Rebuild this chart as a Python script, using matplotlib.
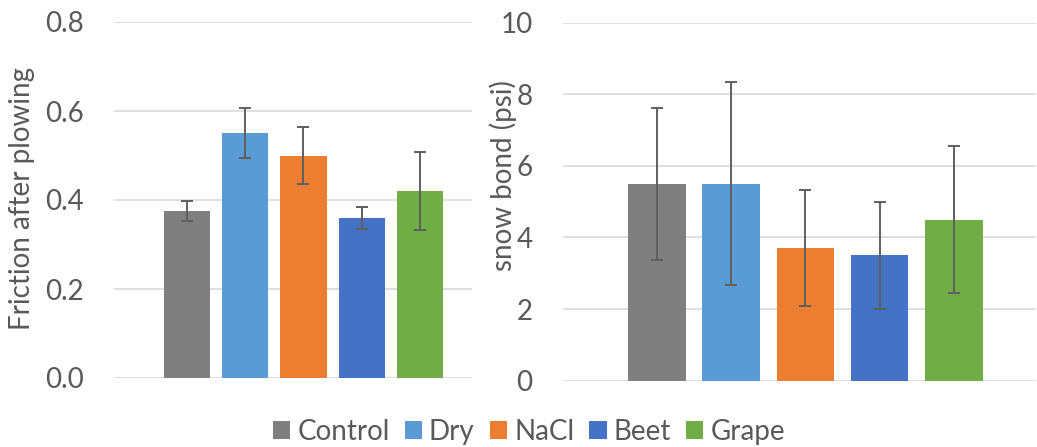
import matplotlib
matplotlib.use("Agg")
import matplotlib.pyplot as plt
from matplotlib.patches import Patch
import numpy as np

categories = ["Control", "Dry", "NaCl", "Beet", "Grape"]
colors = ["#7f7f7f", "#5b9bd5", "#ed7d31", "#4472c4", "#70ad47"]

friction = [0.375, 0.55, 0.50, 0.36, 0.42]
friction_err = [0.023, 0.056, 0.064, 0.025, 0.087]

bond = [5.5, 5.5, 3.7, 3.5, 4.5]
bond_err = [2.12, 2.83, 1.62, 1.5, 2.05]

plt.rcParams['font.family'] = ['Lato', 'DejaVu Sans']
TXT = "#595959"
GRID = "#d9d9d9"

fig = plt.figure(figsize=(10.37, 4.47), dpi=100)

def style(ax):
    for s in ax.spines.values():
        s.set_visible(False)
    ax.yaxis.grid(True, color=GRID, linewidth=1.2)
    ax.set_axisbelow(True)
    ax.tick_params(axis='y', length=0, labelsize=20, colors=TXT, pad=22)
    ax.tick_params(axis='x', length=0, labelbottom=False)

x = np.arange(len(categories))

ax1 = fig.add_axes([114/1037, 1-378/447, (472-114)/1037, 356/447])
ax1.bar(x, friction, width=0.79, color=colors, zorder=2)
ax1.errorbar(x, friction, yerr=friction_err, fmt='none', ecolor="#5f5f5f",
             elinewidth=1.4, capsize=4.5, capthick=1.4, zorder=3)
ax1.set_ylim(0, 0.8)
ax1.set_yticks([0, 0.2, 0.4, 0.6, 0.8])
ax1.set_yticklabels(["0.0", "0.2", "0.4", "0.6", "0.8"])
ax1.set_xlim(-1.25, 4.89)
style(ax1)
ax1.set_ylabel("Friction after plowing", fontsize=20, color=TXT)
ax1.yaxis.set_label_coords((22-114)/358, 0.505)
ax1.yaxis.label.set_verticalalignment('center')

ax2 = fig.add_axes([563/1037, 1-380.6/447, (1036-563)/1037, 358/447])
ax2.bar(x, bond, width=0.78, color=colors, zorder=2)
ax2.errorbar(x, bond, yerr=bond_err, fmt='none', ecolor="#5f5f5f",
             elinewidth=1.4, capsize=4.5, capthick=1.4, zorder=3)
ax2.set_ylim(0, 10)
ax2.set_yticks([0, 2, 4, 6, 8, 10])
ax2.set_xlim(-1.27, 5.11)
style(ax2)
ax2.set_ylabel("snow bond (psi)", fontsize=20, color=TXT)
ax2.yaxis.set_label_coords((503-563)/473, 0.574)
ax2.yaxis.label.set_verticalalignment('center')

handles = [Patch(facecolor=c, edgecolor='none') for c in colors]
fig.legend(handles, categories, loc='center', bbox_to_anchor=(529/1037, 1-432/447),
           ncol=5, frameon=False, fontsize=20, labelcolor=TXT,
           handlelength=0.62, handleheight=0.62, handletextpad=0.25,
           columnspacing=0.55)

fig.savefig("out.png", dpi=100)
